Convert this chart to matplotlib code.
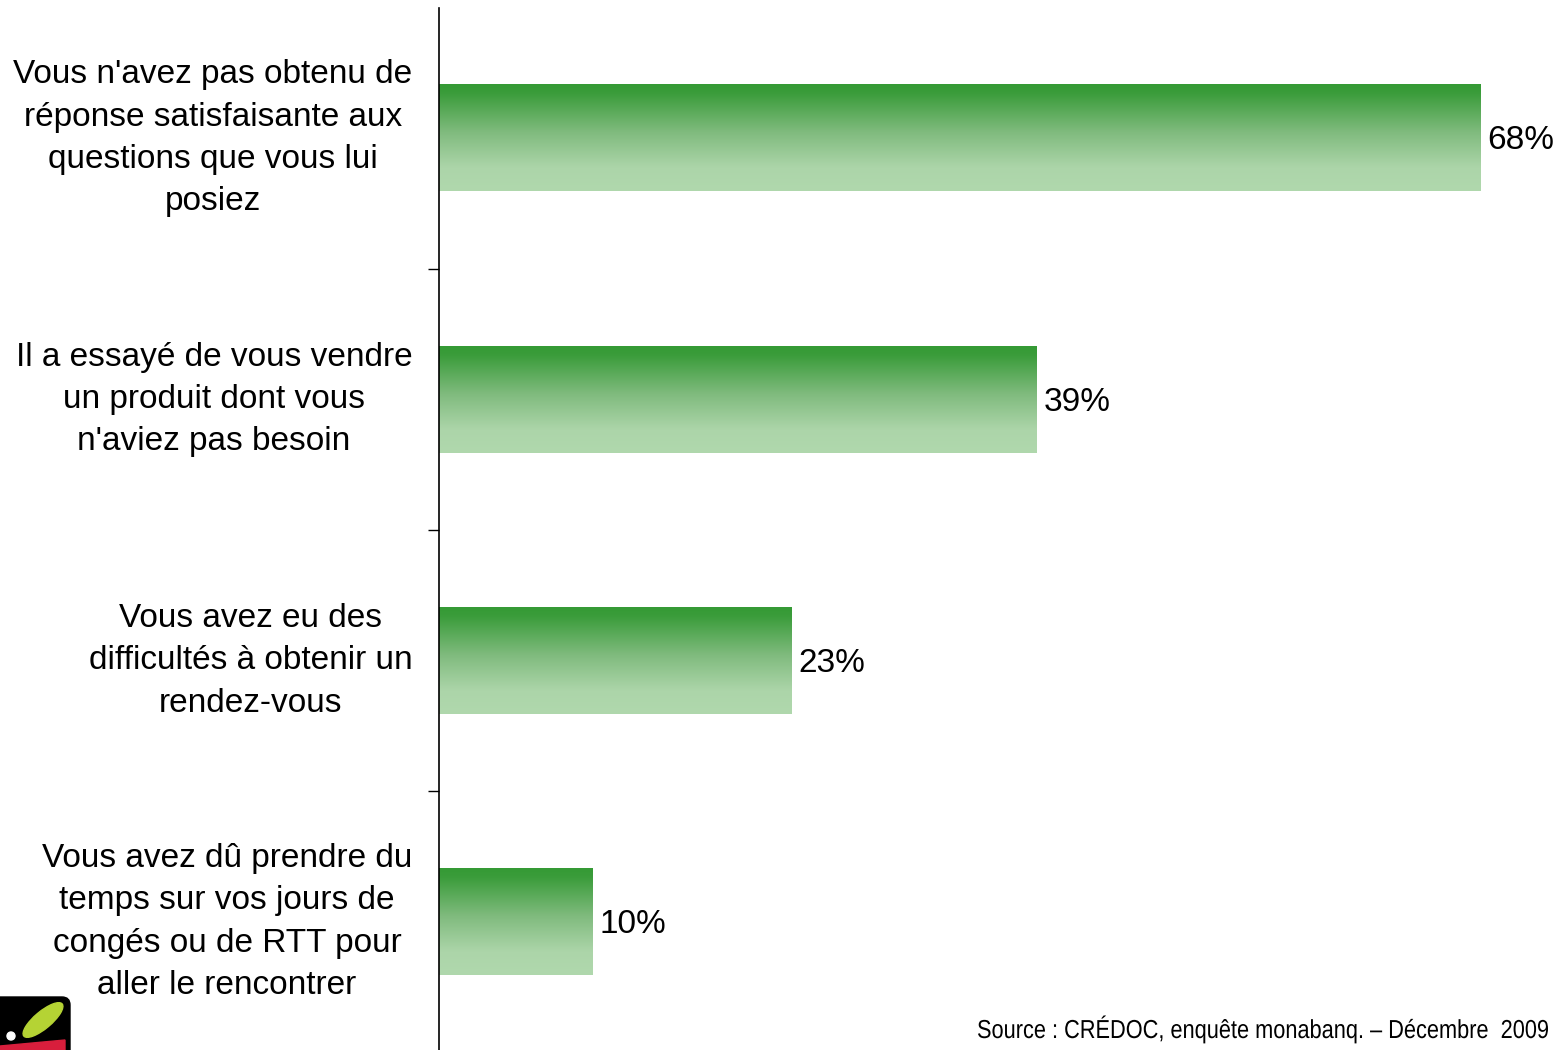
import numpy as np
import matplotlib.pyplot as plt
from matplotlib.colors import LinearSegmentedColormap
from matplotlib.patches import Ellipse, Polygon, Circle, FancyBboxPatch, PathPatch
from matplotlib.textpath import TextPath
from matplotlib.font_manager import FontProperties
from matplotlib.transforms import Affine2D

# Données
categories = [
    "Vous n'avez pas obtenu de\nréponse satisfaisante aux\nquestions que vous lui\nposiez",
    "Il a essayé de vous vendre\nun produit dont vous\nn'aviez pas besoin",
    "Vous avez eu des\ndifficultés à obtenir un\nrendez-vous",
    "Vous avez dû prendre du\ntemps sur vos jours de\ncongés ou de RTT pour\naller le rencontrer",
]
valeurs = [68, 39, 23, 10]
source = "Source : CRÉDOC, enquête monabanq. – Décembre  2009"

plt.rcParams['font.family'] = ['Liberation Sans', 'DejaVu Sans']

fig = plt.figure(figsize=(15.59, 10.5), dpi=100)
ax = fig.add_axes([439 / 1559, -2.6 / 1050, 1 - 439 / 1559, 1045 / 1050])

# Dégradé vert (foncé en haut, clair en bas)
degrade = LinearSegmentedColormap.from_list(
    'vert', [(0.0, '#359a35'), (0.08, '#3a9c3a'), (0.45, '#80bb7e'),
             (0.78, '#acd5a9'), (1.0, '#b0d8ad')])
grad = np.linspace(0, 1, 256).reshape(-1, 1)

hauteur = 0.406
pos = np.arange(len(categories))
barres = ax.barh(pos, valeurs, height=hauteur, color='none', edgecolor='none')
for barre, v in zip(barres, valeurs):
    x0, y0 = barre.get_x(), barre.get_y()
    w, h = barre.get_width(), barre.get_height()
    ax.imshow(grad, cmap=degrade, aspect='auto', interpolation='bicubic',
              extent=(x0, x0 + w, y0 + h, y0), zorder=2)
    ax.text(v + 0.5, y0 + h / 2 + 0.01, f"{v}%", va='center',
            ha='left', fontsize=24, color='black')

ax.set_xlim(0, (1559 - 439) / 15.31)
ax.set_ylim(len(categories) - 0.5, -0.5)

# Graduations entre catégories
ax.set_yticks(np.arange(0.5, len(categories) - 1, 1.0))
ax.set_yticklabels([])
ax.tick_params(axis='y', direction='out', length=8, width=1, color='black')
ax.set_xticks([])
for cote in ['top', 'right', 'bottom']:
    ax.spines[cote].set_visible(False)
ax.spines['left'].set_linewidth(1.2)

# Libellés des catégories
for p, lib in zip(pos, categories):
    ax.text(-1.75, p, lib, ha='right', va='center', multialignment='center',
            fontsize=24, linespacing=1.47, clip_on=False)

# Source en police condensée (texte resserré horizontalement)
tp = TextPath((0, 0), source, size=26, prop=FontProperties(family='Liberation Sans'))
bb = tp.get_extents()
sx = 570 / bb.width
src = tp.transformed(Affine2D().scale(sx, 1.0)
                     .translate(1548 - bb.x1 * sx, 1050 - 1038))
fig.patches.append(PathPatch(src, transform=Affine2D().scale(1 / 100) + fig.dpi_scale_trans,
                             color='black', lw=0))

# Petit logo en bas à gauche
pouce = fig.dpi_scale_trans
fig.patches.append(FancyBboxPatch((-0.1, -0.1), 0.8, 0.63,
                                  boxstyle='round,pad=0,rounding_size=0.08',
                                  transform=pouce, color='black'))
fig.patches.append(Ellipse((0.43, 0.30), 0.5, 0.17, angle=40,
                           transform=pouce, color='#b5d334'))
fig.patches.append(Polygon([(0.0, 0.0), (0.0, 0.04), (0.65, 0.10), (0.65, 0.0)],
                           closed=True, transform=pouce, color='#d81e3c'))
fig.patches.append(Circle((0.11, 0.14), 0.04, transform=pouce, color='white'))

fig.savefig('out.png', dpi=100)
